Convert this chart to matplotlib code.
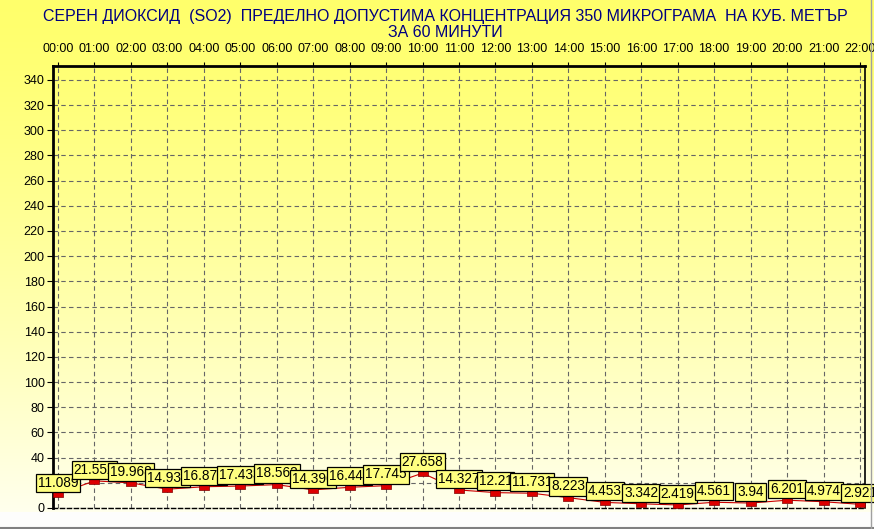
import numpy as np
import matplotlib
matplotlib.use("Agg")
import matplotlib.pyplot as plt
from matplotlib.lines import Line2D

# -- Data ----------------------------------------------------------------------
hours = ["00:00", "01:00", "02:00", "03:00", "04:00", "05:00", "06:00", "07:00",
         "08:00", "09:00", "10:00", "11:00", "12:00", "13:00", "14:00", "15:00",
         "16:00", "17:00", "18:00", "19:00", "20:00", "21:00", "22:00"]
so2 = [11.089, 21.552, 19.968, 14.934, 16.873, 17.433, 18.562, 14.396,
       16.445, 17.745, 27.658, 14.327, 12.21, 11.731, 8.223, 4.453,
       3.342, 2.419, 4.561, 3.94, 6.201, 4.974, 2.921]
y_ticks = list(range(0, 341, 20))
# the "20" label sits under the first value box in the original
y_labels = ["" if v == 20 else str(v) for v in y_ticks]

title = ("СЕРЕН ДИОКСИД  (SO2)  ПРЕДЕЛНО ДОПУСТИМА КОНЦЕНТРАЦИЯ 350 МИКРОГРАМА  НА КУБ. МЕТЪР\n"
         "ЗА 60 МИНУТИ")

plt.rcParams["font.family"] = ["Liberation Sans", "DejaVu Sans"]

W, H = 874, 529
fig = plt.figure(figsize=(W / 100, H / 100), dpi=100)

# -- Background gradient ---------------------------------------------------------
bg = fig.add_axes([0, 0, 1, 1], zorder=-10)
bg.set_axis_off()
top = np.array([1.0, 1.0, 0.42])
bot = np.array([1.0, 1.0, 0.93])
t = np.linspace(0, 1, 512)[:, None] ** 1.3
grad = top * (1 - t) + bot * t
img = np.ones((H, 1, 3))
img[:512, 0, :] = grad
img[512:, 0, :] = [0.995, 0.995, 0.99]
bg.imshow(img, aspect="auto", extent=[0, 1, 0, 1], origin="upper")
bg.set_xlim(0, 1)
bg.set_ylim(0, 1)
fig.add_artist(Line2D([0, 1], [1.5 / H, 1.5 / H], color="#808080", lw=1.5))
fig.add_artist(Line2D([871 / W, 871 / W], [0, 1], color="#a0a0a0", lw=1))

# -- Main axes -------------------------------------------------------------------
left, right, ytop, ybot = 53, 865, 66, 508
ax = fig.add_axes([left / W, (H - ybot) / H, (right - left) / W, (ybot - ytop) / H])
ax.set_facecolor("none")

x = np.arange(len(hours))
ax.plot(x, so2, color="#cc0000", lw=0.8, zorder=3)
rect = [(-1, -0.55), (1, -0.55), (1, 0.55), (-1, 0.55), (-1, -0.55)]
ax.plot(x, so2, ls="none", marker=rect, markersize=7.5, color="#dd0000",
        markeredgecolor="#800000", markeredgewidth=0.5, zorder=4)

for xi, v in zip(x, so2):
    ax.annotate(f"{v:g}", (xi, v), xytext=(0, 3), textcoords="offset points",
                ha="center", va="bottom", fontsize=9.8, zorder=5,
                annotation_clip=False,
                bbox=dict(boxstyle="square,pad=0.15", fc="#ffff80", ec="black", lw=0.9))

ax.set_xlim(-0.137, 22.137)
ax.set_ylim(0, 351)
ax.set_xticks(x)
ax.set_xticklabels(hours, fontsize=9)
ax.xaxis.tick_top()
ax.set_yticks(y_ticks)
ax.set_yticklabels(y_labels, fontsize=9)
ax.tick_params(axis="x", length=3, pad=5, color="black")
ax.tick_params(axis="y", length=4, pad=2, color="black")
ax.grid(True, ls=(0, (4, 3)), color="#666666", lw=0.8)

ax.spines["left"].set_linewidth(2)
ax.spines["top"].set_linewidth(2)
ax.spines["right"].set_linewidth(1.2)
ax.spines["bottom"].set_linestyle((0, (3, 2)))
ax.spines["bottom"].set_linewidth(1)

fig.text(445 / W, 1 - 9 / H, title, ha="center", va="top", fontsize=11.5,
         color="#000080", linespacing=1.1)

fig.savefig("out.png", dpi=100)
